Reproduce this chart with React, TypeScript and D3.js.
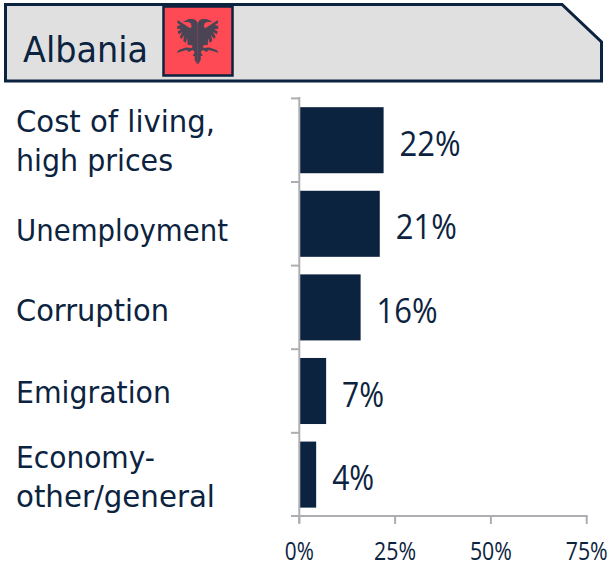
import React from "react";
import * as d3 from "d3";

const categories = ["Cost of living,|high prices", "Unemployment", "Corruption", "Emigration", "Economy-|other/general"];
const values = [22, 21, 16, 7, 4.4];
const xTicks = [0, 25, 50, 75];
const title = "Albania";
const NAVY = "#0c2340";
const GREY = "#aeaeb2";
const LABEL_FONT = "'DejaVu Sans', sans-serif";
const NUM_FONT = "'Open Sans', 'Noto Sans', sans-serif";

// rendered line widths and baseline nudges of the category labels
const lineWidths: Record<string, number> = {
  "Cost of living,": 199, "high prices": 157, Unemployment: 212, Corruption: 153,
  Emigration: 155, "Economy-": 139, "other/general": 199,
};
const labelNudge = [11, 17.5, 13.5, 12, 12.5];

const x = d3.scaleLinear().domain([0, 75]).range([299.3, 586.7]);
const band = d3.scaleBand<string>().domain(categories).range([98.4, 516.4]);
const y = d3.scaleBand<string>().domain(categories).range([98.4, 516.4]).paddingInner(0.21).paddingOuter(0.105);

const pctWidth = (s: string, digit: number, pct: number) => (s.length - 1) * digit + pct;

const halfEagle =
  "M0,4 L2,1 L5,0 L9,0 L15,3 L10,3 L7,4 L6,8 L8,9 L14,5 L20,1 L20.5,4 L17,6 L20.5,7 L20.5,10 L16.5,10 L20,12.5 L19,15.5 L15.5,13 L18,18 L16,20 L13.5,16 L14.5,22 L12,24 L10.5,19 L10,26 L7,26 L5,27 L6,29 L12,28.5 L19,31 L21,34 L15,32 L11,31 L9,33 L5,31 L3,33 L5,37 L3,37 L3,41 L0.5,45 L0,45 Z";

export default function App() {
  return (
    <svg width={610} height={564} style={{ position: "absolute", left: 0, top: 0 }}>
      <path d="M5.5,4.5 H562 L601.5,42 V81 H5.5 Z" fill="#e0e0e0" stroke={NAVY} strokeWidth={3} />
      <text x={23} y={62} fontFamily={LABEL_FONT} fontSize={36} fill={NAVY} textLength={125} lengthAdjust="spacingAndGlyphs">{title}</text>
      <rect x={163.5} y={6.5} width={69} height={69} fill="#fd4a55" stroke={NAVY} strokeWidth={2.5} />
      <g transform="translate(197.7,19)" fill="#4a4455">
        <path d={halfEagle} />
        <path d={halfEagle} transform="scale(-1,1)" />
      </g>
      {categories.map((c, i) => {
        const lines = c.split("|");
        const cy = band(c)! + band.bandwidth() / 2 + labelNudge[i];
        const label = `${Math.round(values[i])}%`;
        return (
          <g key={c}>
            <rect x={x(0)} y={y(c)!} width={x(values[i]) - x(0)} height={y.bandwidth()} fill={NAVY} />
            <text x={x(values[i]) + 16} y={y(c)! + y.bandwidth() / 2 + 15.5} fontFamily={NUM_FONT} fontSize={35} fill={NAVY}
              textLength={pctWidth(label, 19, 23)} lengthAdjust="spacingAndGlyphs">{label}</text>
            {lines.map((l, j) => (
              <text key={l} x={16} y={cy + (j - (lines.length - 1) / 2) * 39} fontFamily={LABEL_FONT} fontSize={30} fill={NAVY}
                textLength={lineWidths[l]} lengthAdjust="spacingAndGlyphs">{l}</text>
            ))}
          </g>
        );
      })}
      <g stroke={GREY} strokeWidth={2} fill="none">
        <line x1={x(0)} x2={x(0)} y1={97} y2={523} />
        <line x1={291} x2={x(75) + 1} y1={516} y2={516} />
        {band.domain().map((c) => (
          <line key={c} x1={291} x2={x(0)} y1={band(c)!} y2={band(c)!} />
        ))}
        {xTicks.map((t) => (
          <line key={t} x1={x(t)} x2={x(t)} y1={516} y2={524} />
        ))}
      </g>
      {xTicks.map((t) => {
        const s = `${t}%`;
        const w = pctWidth(s, 13, 16);
        return (
          <text key={t} x={x(t) - w / 2} y={560} fontFamily={NUM_FONT} fontSize={25} fill={NAVY}
            textLength={w} lengthAdjust="spacingAndGlyphs">{s}</text>
        );
      })}
    </svg>
  );
}
